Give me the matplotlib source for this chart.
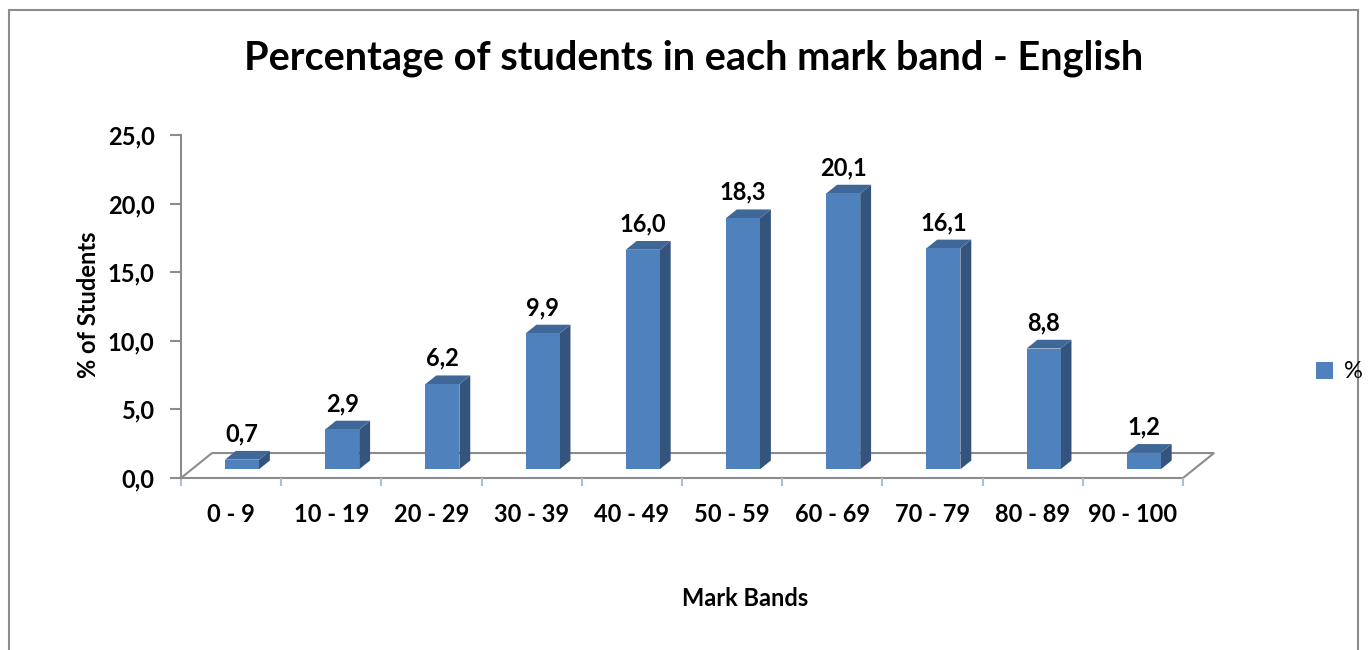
import matplotlib.pyplot as plt
from matplotlib.patches import Polygon, Rectangle, Patch

bands = ['0 - 9', '10 - 19', '20 - 29', '30 - 39', '40 - 49',
         '50 - 59', '60 - 69', '70 - 79', '80 - 89', '90 - 100']
pct = [0.7, 2.9, 6.2, 9.9, 16.0, 18.3, 20.1, 16.1, 8.8, 1.2]
yticks = [0, 5, 10, 15, 20, 25]

front_col = '#4F81BD'
side_col = '#34547E'
top_col = '#3F6898'
line_col = '#8C8C8C'

plt.rcParams['font.family'] = ['Lato', 'DejaVu Sans']
fs = 17

fig = plt.figure(figsize=(13.68, 6.5), dpi=100)
ax = fig.add_axes([181 / 1368, 1 - 478 / 650, 1002 / 1368, 343 / 650])
ax.set_xlim(-0.5, len(bands) - 0.5)
ax.set_ylim(0, 25)

# 3d look: floor depth in data units, bars sit in the middle of it
depth_x, depth_y = 0.31, 1.82
f0, f1 = 0.35, 0.70
w = 0.34

n = len(bands)
floor = [(-0.5, 0), (n - 0.5, 0), (n - 0.5 + depth_x, depth_y), (-0.5 + depth_x, depth_y)]
ax.add_patch(Polygon(floor, closed=True, facecolor='none', edgecolor=line_col,
                     lw=1.5, clip_on=False, zorder=1))

bx, by = (f1 - f0) * depth_x, (f1 - f0) * depth_y
for i, v in enumerate(pct):
    x0 = i - w / 2 + f0 * depth_x
    x1 = x0 + w
    y0 = f0 * depth_y
    front = [(x0, y0), (x1, y0), (x1, y0 + v), (x0, y0 + v)]
    side = [(x1, y0), (x1 + bx, y0 + by), (x1 + bx, y0 + by + v), (x1, y0 + v)]
    top = [(x0, y0 + v), (x1, y0 + v), (x1 + bx, y0 + v + by), (x0 + bx, y0 + v + by)]
    ax.add_patch(Polygon(side, closed=True, facecolor=side_col, edgecolor='none', zorder=3))
    ax.add_patch(Polygon(top, closed=True, facecolor=top_col, edgecolor='none', zorder=3))
    ax.add_patch(Polygon(front, closed=True, facecolor=front_col, edgecolor='none', zorder=4))
    ax.annotate(f'{v:.1f}'.replace('.', ','), (x0 + w / 2, y0 + v + by),
                xytext=(0, 4), textcoords='offset points', ha='center', va='bottom',
                fontsize=fs, fontweight='bold', zorder=5)

for s in ['top', 'right', 'bottom']:
    ax.spines[s].set_visible(False)
ax.spines['left'].set_color(line_col)
ax.spines['left'].set_linewidth(1.5)

ax.set_yticks(yticks)
ax.set_yticklabels([f'{t:.1f}'.replace('.', ',') for t in yticks])
ax.tick_params(axis='y', direction='out', length=8, width=1.5, color=line_col,
               pad=11, labelsize=fs)
for lab in ax.get_yticklabels():
    lab.set_fontweight('bold')

ax.set_xticks([k - 0.5 for k in range(n + 1)])
ax.set_xticklabels([])
ax.tick_params(axis='x', which='major', direction='out', length=6, width=1.5,
               color='#A9C0DC')
ax.set_xticks(range(n), minor=True)
ax.set_xticklabels(bands, minor=True)
ax.tick_params(axis='x', which='minor', length=0, pad=18, labelsize=fs)
for lab in ax.get_xticklabels(minor=True):
    lab.set_fontweight('bold')

fig.text(0.507, 0.911, 'Percentage of students in each mark band - English',
         ha='center', va='center', fontsize=28.5, fontweight='bold')
fig.text(745 / 1368, 1 - 598 / 650, 'Mark Bands', ha='center', va='center',
         fontsize=fs, fontweight='bold')
fig.text(88 / 1368, 1 - 305 / 650, '% of Students', ha='center', va='center',
         rotation=90, fontsize=fs, fontweight='bold')

fig.legend(handles=[Patch(facecolor=front_col, label='%')], loc='center left',
           bbox_to_anchor=(1316 / 1368, 1 - 372 / 650), frameon=False,
           borderpad=0, borderaxespad=0,
           handlelength=0.7, handleheight=0.7, handletextpad=0.5, fontsize=fs)

fig.patches.append(Rectangle((9 / 1368, -0.1), 1349 / 1368, 1.1 - 10 / 650,
                             transform=fig.transFigure, fill=False,
                             edgecolor=line_col, lw=1.5))

fig.savefig('out.png', dpi=100)
